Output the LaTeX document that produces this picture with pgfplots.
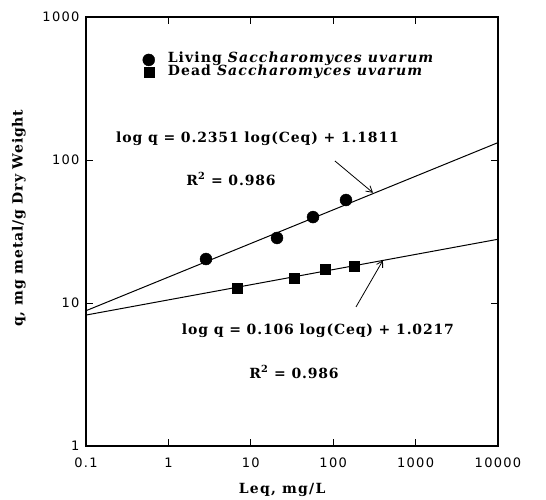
\documentclass[border=0pt]{standalone}
\usepackage{fontspec}
\setmainfont{DejaVu Serif}
\newfontfamily\tickfont{DejaVu Sans}
\usepackage{pgfplots}
\pgfplotsset{compat=1.18}
\usetikzlibrary{arrows.meta}
\newcommand{\eqfont}{\bfseries\fontsize{14}{16}\selectfont\addfontfeature{LetterSpace=6}}
\begin{document}
\begin{tikzpicture}
\begin{axis}[
  name=ax,
  xmode=log, ymode=log,
  scale only axis, width=412pt, height=429pt,
  xmin=0.1, xmax=10000, ymin=1, ymax=1000,
  xtick={0.1,1,10,100,1000,10000},
  xticklabels={0.1,1,10,100,1000,10000},
  ytick={1,10,100,1000},
  yticklabels={1,10,100,1000},
  xminorticks=false, yminorticks=false,
  tick align=inside, major tick length=7pt,
  tick style={black, line width=0.8pt},
  axis line style={line width=1.2pt},
  ticklabel style={font=\tickfont\fontsize{13}{15}\selectfont\addfontfeature{LetterSpace=10}},
  xticklabel style={yshift=-8pt},
  yticklabel style={xshift=-3pt},
  xlabel={Leq, mg/L},
  ylabel={q, mg metal/g Dry Weight},
  xlabel style={at={(axis description cs:0.476,-0.103)}, anchor=center,
    font=\bfseries\fontsize{14}{16}\selectfont\addfontfeature{LetterSpace=9}},
  ylabel style={at={(axis description cs:-0.163,0.531)}, anchor=center,
    font=\bfseries\fontsize{14}{16}\selectfont\addfontfeature{LetterSpace=6}},
  legend style={draw=none, fill=none, at={(axis description cs:0.13,0.9214)}, anchor=north west,
    font=\bfseries\fontsize{14}{16}\selectfont\addfontfeature{LetterSpace=8}, row sep=-1.5pt,
    nodes={text height=9pt, text depth=3pt, inner sep=1pt}},
  legend cell align=left,
  legend image code/.code={\draw[#1] plot coordinates {(0pt,0pt)}; \path[draw=none] (0pt,0pt) -- (18pt,0pt);},
]
\addplot[only marks, mark=*, mark size=6pt, black] coordinates {
  (2.86,20.3) (20.8,28.5) (56.9,39.9) (143,52.5)};
\addlegendentry{Living \textit{Saccharomyces uvarum}}
\addplot[only marks, mark=square*, mark size=5pt, black] coordinates {
  (6.8,12.7) (33.4,15.0) (79.5,17.3) (179,18.1)};
\addlegendentry{Dead \textit{Saccharomyces uvarum}}
\addplot[black, line width=1pt, forget plot] coordinates {(0.1,8.831) (10000,132.3)};
\addplot[black, line width=1pt, forget plot] coordinates {(0.1,8.235) (10000,27.91)};
\draw[line width=0.8pt, -{Straight Barb[length=6pt,width=7pt]}] (axis cs:105,98.4) -- (axis cs:304,59);
\draw[line width=0.8pt, -{Straight Barb[length=6pt,width=7pt]}] (axis cs:189,9.38) -- (axis cs:402,19.9);
\node[anchor=base, font=\eqfont] at (rel axis cs:0.4163,0.7086) {log q = 0.2351 log(Ceq) + 1.1811};
\node[anchor=base, font=\eqfont] at (rel axis cs:0.352,0.608) {R\textsuperscript{2} = 0.986};
\node[anchor=base, font=\eqfont] at (rel axis cs:0.563,0.259) {log q = 0.106 log(Ceq) + 1.0217};
\node[anchor=base, font=\eqfont] at (rel axis cs:0.505,0.1585) {R\textsuperscript{2} = 0.986};
\end{axis}
\pgfresetboundingbox
\path[use as bounding box] (ax.south west) ++(-86pt,-54pt) rectangle ++(546pt,500pt);
\end{tikzpicture}
\end{document}
